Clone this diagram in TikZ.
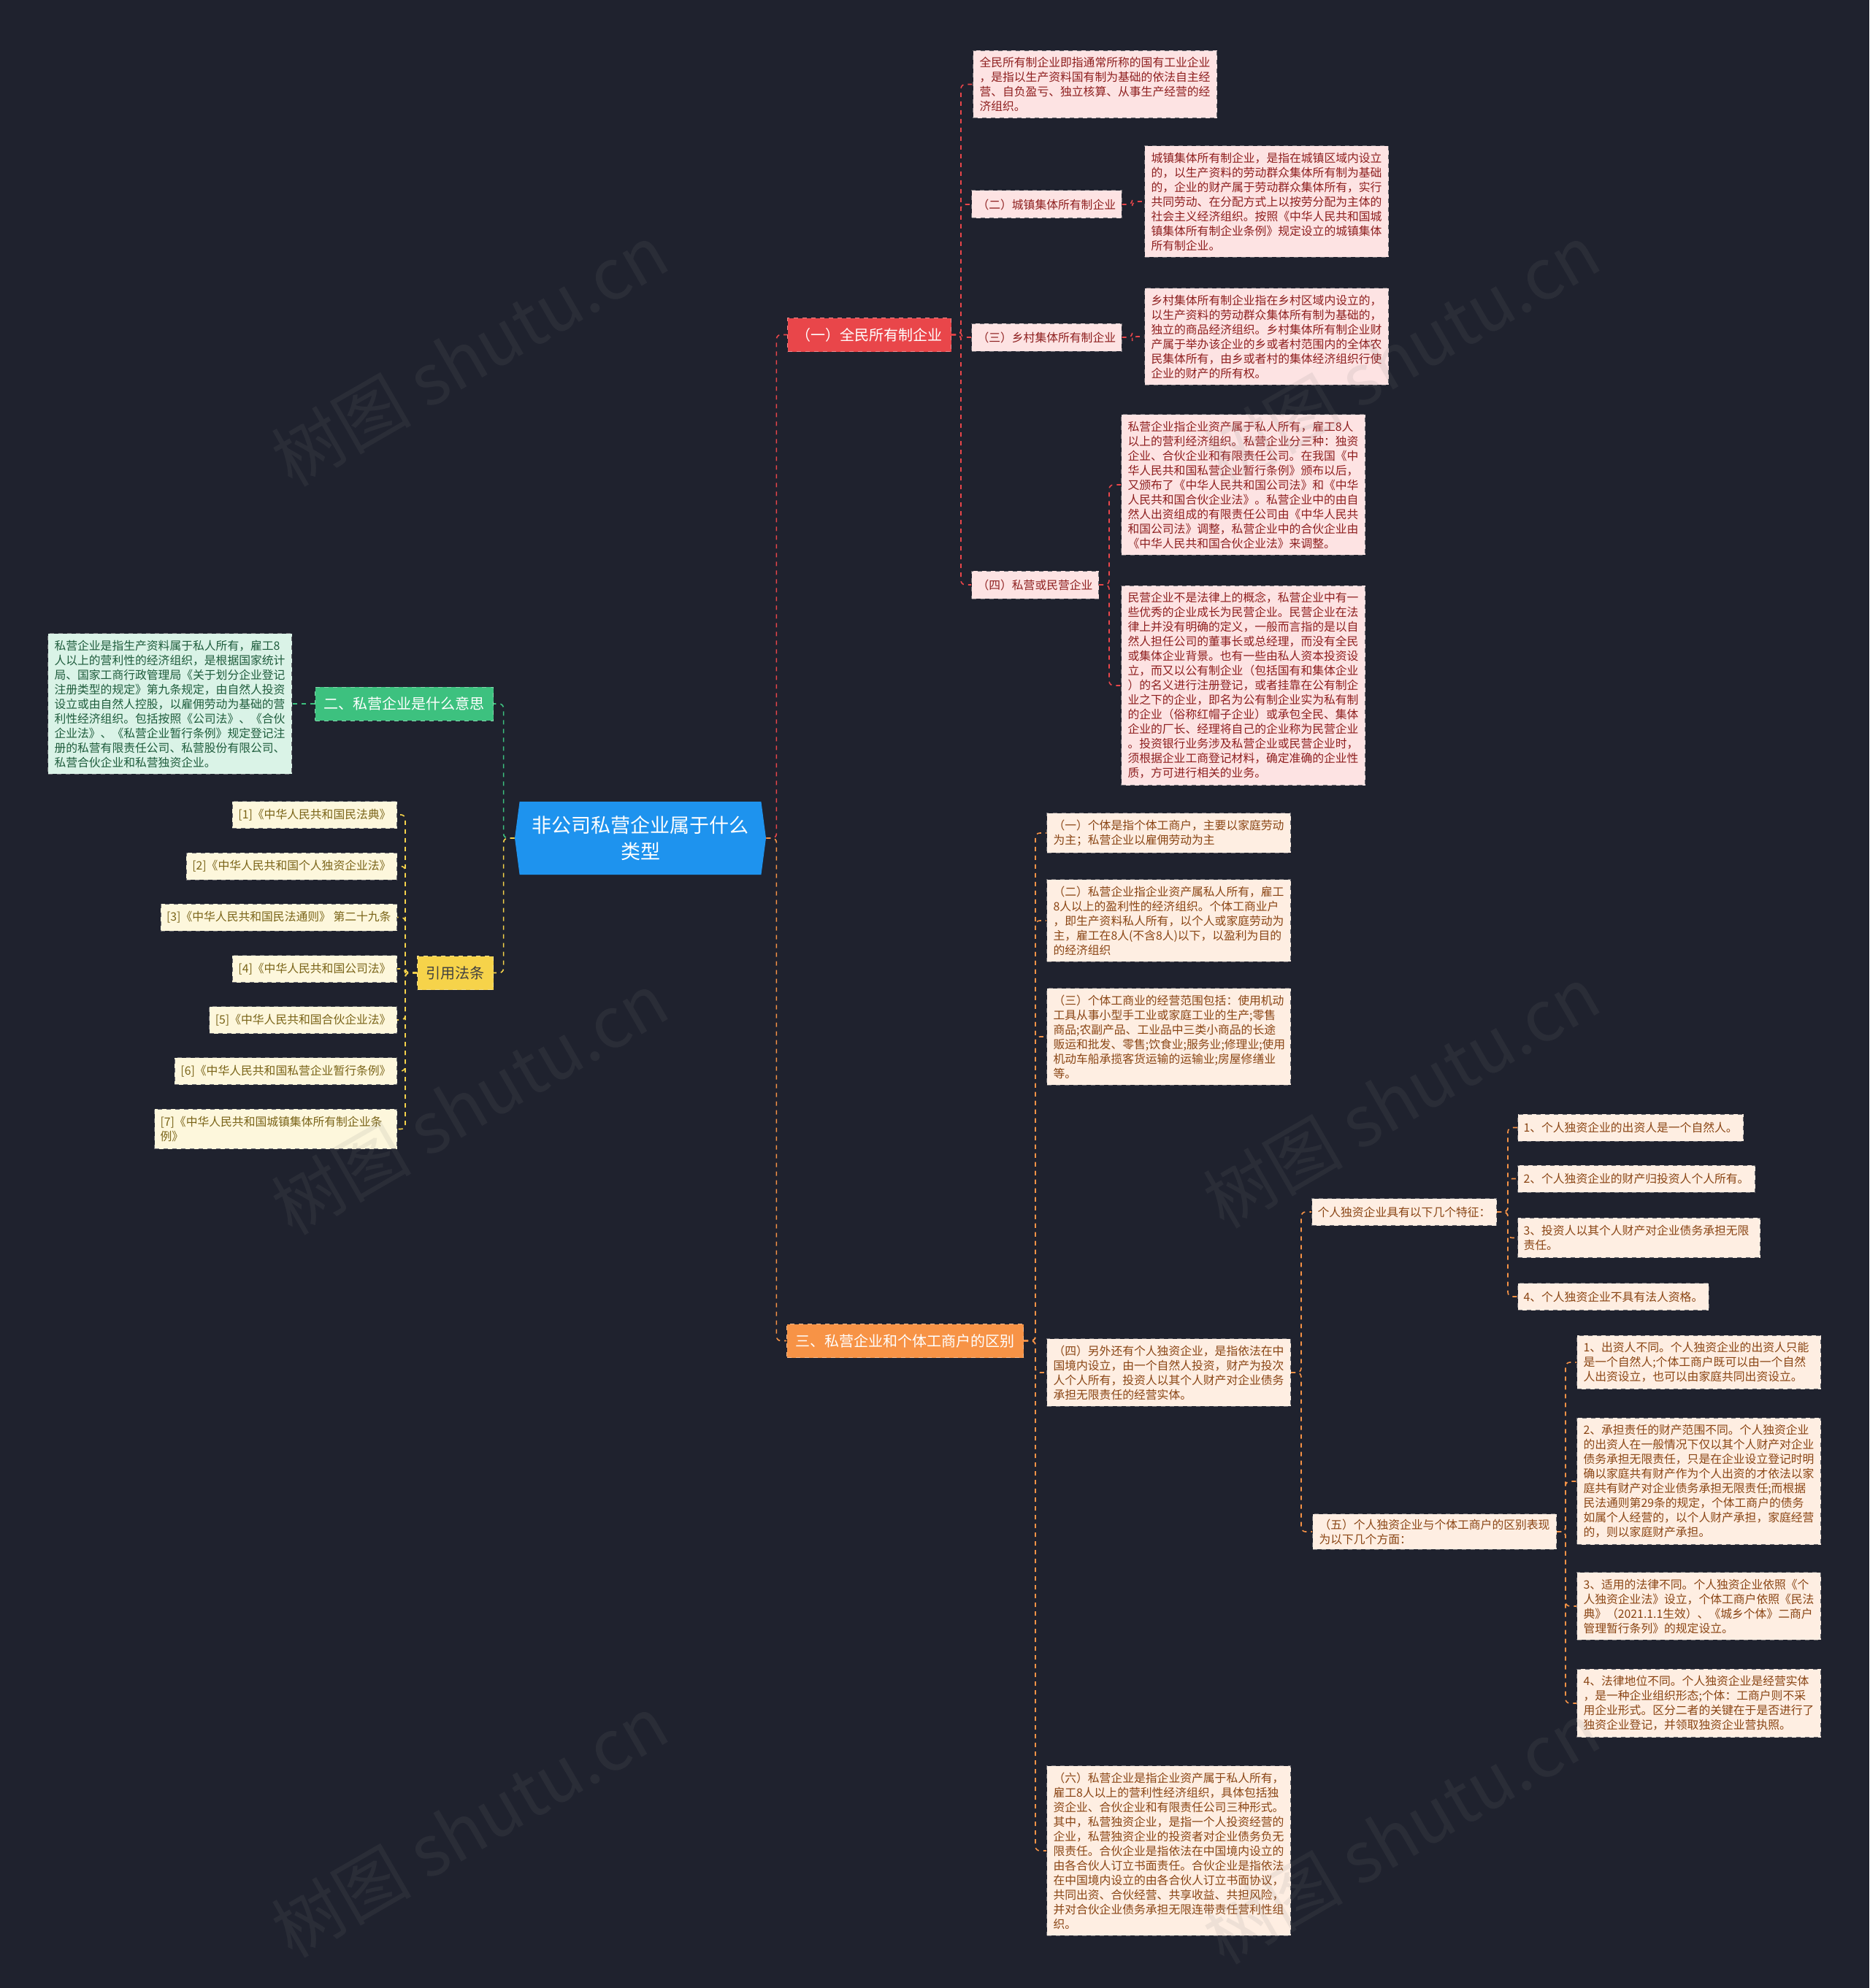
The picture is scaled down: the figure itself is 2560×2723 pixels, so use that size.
\documentclass[tikz,border=0pt]{standalone}
\usepackage{fontspec}
\setmainfont{Noto Sans CJK SC}
\usetikzlibrary{shapes.symbols}
\definecolor{bgc}{HTML}{1F222E}
\definecolor{redc}{HTML}{E9464A}
\definecolor{greenc}{HTML}{3DC17F}
\definecolor{yellowc}{HTML}{F6D34A}
\definecolor{orangec}{HTML}{F79346}
\definecolor{bluec}{HTML}{1E93EE}
\definecolor{pinkfill}{HTML}{FDE3E3}
\definecolor{pinktext}{HTML}{8E1F1F}
\definecolor{mintfill}{HTML}{DAF3E7}
\definecolor{minttext}{HTML}{1E5C3C}
\definecolor{creamfill}{HTML}{FDF7DC}
\definecolor{creamtext}{HTML}{7A6418}
\definecolor{peachfill}{HTML}{FEEEE2}
\definecolor{peachtext}{HTML}{8A4514}
\definecolor{boxline}{HTML}{6A6A70}
\newcommand\fsC{\fontsize{7.9pt}{10pt}\selectfont}
\newcommand\fsB{\fontsize{10pt}{12pt}\selectfont}
\newcommand\fsM{\fontsize{13.5pt}{18pt}\selectfont}
\newcommand\fsW{\fontsize{48pt}{48pt}\selectfont}
\begin{document}
\begin{tikzpicture}[x=0.5pt,y=-0.5pt,
  box/.style={draw=boxline, dashed, line width=0.5pt, font=\fsC, align=left, inner xsep=4.5pt, inner ysep=4.5pt},
  wbox/.style={box, text width=158pt},
  pinkbox/.style={wbox, fill=pinkfill, text=pinktext},
  pinklab/.style={box, fill=pinkfill, text=pinktext, minimum height=19pt, inner xsep=4pt},
  mintbox/.style={wbox, fill=mintfill, text=minttext},
  lawbox/.style={box, fill=creamfill, text=creamtext, minimum height=18.5pt, inner xsep=4pt, anchor=east},
  peachbox/.style={wbox, fill=peachfill, text=peachtext},
  peachlab/.style={box, fill=peachfill, text=peachtext, minimum height=18.5pt, inner xsep=4pt, inner ysep=5pt},
  branch/.style={font=\fsB, minimum height=23pt, inner xsep=6pt, draw=white!35!#1, dashed, line width=0.5pt, fill=#1},
  conn/.style={dashed, line width=0.8pt, rounded corners=3pt, draw=#1},
  wm/.style={rotate=30, text=gray, opacity=0.12, font=\fsW}
]
\fill[bgc] (0,0) rectangle (2560,2723);
\useasboundingbox (0,0) rectangle (2560,2723);

% center
\node[shape=signal, signal to=west and east, signal pointer angle=165, fill=bluec, text=white, font=\fsM, align=center, minimum width=172pt, minimum height=50pt, inner sep=0pt] (center) at (877,1148) {非公司私营企业属于什么\\类型};

% branches
\node[branch=redc, text=white, anchor=west] (b1) at (1078,458.5) {（一）全民所有制企业};
\node[branch=greenc, text=white, anchor=east] (b2) at (676,964) {二、私营企业是什么意思};
\node[branch=yellowc, text=black!75, anchor=east] (b3) at (676,1332.5) {引用法条};
\node[branch=orangec, text=white, anchor=west] (b4) at (1077,1836.5) {三、私营企业和个体工商户的区别};

% branch 1 children
\node[pinkbox, anchor=west] (c1a) at (1332,115.5) {全民所有制企业即指通常所称的国有工业企业\\，是指以生产资料国有制为基础的依法自主经\\营、自负盈亏、独立核算、从事生产经营的经\\济组织。};
\node[pinklab, anchor=west] (l1b) at (1330,280) {（二）城镇集体所有制企业};
\node[pinkbox, anchor=west] (t1b) at (1567,276) {城镇集体所有制企业，是指在城镇区域内设立\\的，以生产资料的劳动群众集体所有制为基础\\的，企业的财产属于劳动群众集体所有，实行\\共同劳动、在分配方式上以按劳分配为主体的\\社会主义经济组织。按照《中华人民共和国城\\镇集体所有制企业条例》规定设立的城镇集体\\所有制企业。};
\node[pinklab, anchor=west] (l1c) at (1330,462) {（三）乡村集体所有制企业};
\node[pinkbox, anchor=west] (t1c) at (1567,461) {乡村集体所有制企业指在乡村区域内设立的，\\以生产资料的劳动群众集体所有制为基础的，\\独立的商品经济组织。乡村集体所有制企业财\\产属于举办该企业的乡或者村范围内的全体农\\民集体所有，由乡或者村的集体经济组织行使\\企业的财产的所有权。};
\node[pinklab, anchor=west] (l1d) at (1330,801) {（四）私营或民营企业};
\node[pinkbox, anchor=west] (t1d1) at (1535,664) {私营企业指企业资产属于私人所有，雇工8人\\以上的营利经济组织。私营企业分三种：独资\\企业、合伙企业和有限责任公司。在我国《中\\华人民共和国私营企业暂行条例》颁布以后，\\又颁布了《中华人民共和国公司法》和《中华\\人民共和国合伙企业法》。私营企业中的由自\\然人出资组成的有限责任公司由《中华人民共\\和国公司法》调整，私营企业中的合伙企业由\\《中华人民共和国合伙企业法》来调整。};
\node[pinkbox, anchor=west] (t1d2) at (1535,939) {民营企业不是法律上的概念，私营企业中有一\\些优秀的企业成长为民营企业。民营企业在法\\律上并没有明确的定义，一般而言指的是以自\\然人担任公司的董事长或总经理，而没有全民\\或集体企业背景。也有一些由私人资本投资设\\立，而又以公有制企业（包括国有和集体企业\\）的名义进行注册登记，或者挂靠在公有制企\\业之下的企业，即名为公有制企业实为私有制\\的企业（俗称红帽子企业）或承包全民、集体\\企业的厂长、经理将自己的企业称为民营企业\\。投资银行业务涉及私营企业或民营企业时，\\须根据企业工商登记材料，确定准确的企业性\\质，方可进行相关的业务。};

% branch 2 child
\node[mintbox, anchor=east] (lb) at (400,964) {私营企业是指生产资料属于私人所有，雇工8\\人以上的营利性的经济组织，是根据国家统计\\局、国家工商行政管理局《关于划分企业登记\\注册类型的规定》第九条规定，由自然人投资\\设立或由自然人控股，以雇佣劳动为基础的营\\利性经济组织。包括按照《公司法》、《合伙\\企业法》、《私营企业暂行条例》规定登记注\\册的私营有限责任公司、私营股份有限公司、\\私营合伙企业和私营独资企业。};

% branch 3 children
\node[lawbox] (law1) at (544,1116) {[1]《中华人民共和国民法典》};
\node[lawbox] (law2) at (544,1186.5) {[2]《中华人民共和国个人独资企业法》};
\node[lawbox] (law3) at (544,1256.5) {[3]《中华人民共和国民法通则》 第二十九条};
\node[lawbox] (law4) at (544,1327) {[4]《中华人民共和国公司法》};
\node[lawbox] (law5) at (544,1397) {[5]《中华人民共和国合伙企业法》};
\node[lawbox] (law6) at (544,1467) {[6]《中华人民共和国私营企业暂行条例》};
\node[lawbox, text width=158pt, align=left, inner ysep=5pt] (law7) at (544,1546.5) {[7]《中华人民共和国城镇集体所有制企业条\\例》};

% branch 4 children
\node[peachbox, anchor=west] (d1) at (1433,1141) {（一）个体是指个体工商户，主要以家庭劳动\\为主；私营企业以雇佣劳动为主};
\node[peachbox, anchor=west] (d2) at (1433,1261) {（二）私营企业指企业资产属私人所有，雇工\\8人以上的盈利性的经济组织。个体工商业户\\，即生产资料私人所有，以个人或家庭劳动为\\主，雇工在8人(不含8人)以下，以盈利为目的\\的经济组织};
\node[peachbox, anchor=west] (d3) at (1433,1420) {（三）个体工商业的经营范围包括：使用机动\\工具从事小型手工业或家庭工业的生产;零售\\商品;农副产品、工业品中三类小商品的长途\\贩运和批发、零售;饮食业;服务业;修理业;使用\\机动车船承揽客货运输的运输业;房屋修缮业\\等。};
\node[peachbox, anchor=west] (d4) at (1433,1880) {（四）另外还有个人独资企业，是指依法在中\\国境内设立，由一个自然人投资，财产为投次\\人个人所有，投资人以其个人财产对企业债务\\承担无限责任的经营实体。};
\node[peachbox, anchor=west] (d6) at (1433,2535) {（六）私营企业是指企业资产属于私人所有，\\雇工8人以上的营利性经济组织，具体包括独\\资企业、合伙企业和有限责任公司三种形式。\\其中，私营独资企业，是指一个人投资经营的\\企业，私营独资企业的投资者对企业债务负无\\限责任。合伙企业是指依法在中国境内设立的\\由各合伙人订立书面责任。合伙企业是指依法\\在中国境内设立的由各合伙人订立书面协议，\\共同出资、合伙经营、共享收益、共担风险，\\并对合伙企业债务承担无限连带责任营利性组\\织。};

\node[peachlab, anchor=west] (feat) at (1796,1660) {个人独资企业具有以下几个特征：};
\node[peachlab, anchor=west] (f1) at (2078,1544.5) {1、个人独资企业的出资人是一个自然人。};
\node[peachlab, anchor=west] (f2) at (2078,1614.5) {2、个人独资企业的财产归投资人个人所有。};
\node[peachlab, anchor=west, text width=158pt, align=left] (f3) at (2078,1695.5) {3、投资人以其个人财产对企业债务承担无限\\责任。};
\node[peachlab, anchor=west] (f4) at (2078,1776) {4、个人独资企业不具有法人资格。};

\node[peachbox, anchor=west, inner ysep=3.5pt] (five) at (1797,2098) {（五）个人独资企业与个体工商户的区别表现\\为以下几个方面：};
\node[peachbox, anchor=west] (e1) at (2159,1866) {1、出资人不同。个人独资企业的出资人只能\\是一个自然人;个体工商户既可以由一个自然\\人出资设立，也可以由家庭共同出资设立。};
\node[peachbox, anchor=west] (e2) at (2159,2029) {2、承担责任的财产范围不同。个人独资企业\\的出资人在一般情况下仅以其个人财产对企业\\债务承担无限责任，只是在企业设立登记时明\\确以家庭共有财产作为个人出资的才依法以家\\庭共有财产对企业债务承担无限责任;而根据\\民法通则第29条的规定，个体工商户的债务\\如属个人经营的，以个人财产承担，家庭经营\\的，则以家庭财产承担。};
\node[peachbox, anchor=west] (e3) at (2159,2200) {3、适用的法律不同。个人独资企业依照《个\\人独资企业法》设立，个体工商户依照《民法\\典》（2021.1.1生效）、《城乡个体》二商户\\管理暂行条列》的规定设立。};
\node[peachbox, anchor=west] (e4) at (2159,2333) {4、法律地位不同。个人独资企业是经营实体\\，是一种企业组织形态;个体：工商户则不采\\用企业形式。区分二者的关键在于是否进行了\\独资企业登记，并领取独资企业营执照。};

% connectors
\draw[conn=redc] (center.east) -- ++(14,0) |- (b1.west);
\draw[conn=orangec] (center.east) -- ++(14,0) |- (b4.west);
\draw[conn=greenc] (center.west) -- ++(-15,0) |- (b2.east);
\draw[conn=yellowc] (center.west) -- ++(-15,0) |- (b3.east);

\foreach \t in {c1a,l1b,l1c,l1d}
  \draw[conn=redc] (b1.east) -- ++(13,0) |- (\t.west);
\draw[conn=redc] (l1b.east) -- ++(14,0) |- (t1b.west);
\draw[conn=redc] (l1c.east) -- ++(14,0) |- (t1c.west);
\draw[conn=redc] (l1d.east) -- ++(14,0) |- (t1d1.west);
\draw[conn=redc] (l1d.east) -- ++(14,0) |- (t1d2.west);

\draw[conn=greenc] (b2.west) -- (lb.east);

\foreach \t in {law1,law2,law3,law4,law5,law6,law7}
  \draw[conn=yellowc] (b3.west) -- ++(-16,0) |- (\t.east);

\foreach \t in {d1,d2,d3,d4,d6}
  \draw[conn=orangec] (b4.east) -- ++(16,0) |- (\t.west);
\draw[conn=orangec] (d4.east) -- ++(14,0) |- (feat.west);
\draw[conn=orangec] (d4.east) -- ++(14,0) |- (five.west);
\foreach \t in {f1,f2,f3,f4}
  \draw[conn=orangec] (feat.east) -- ++(15,0) |- (\t.west);
\foreach \t in {e1,e2,e3,e4}
  \draw[conn=orangec] (five.east) -- ++(12,0) |- (\t.west);

% watermarks
\node[wm] (wm1) at (643,486) {树图 shutu.cn};
\node[wm] (wm2) at (1919,486) {树图 shutu.cn};
\node[wm] (wm3) at (643,1511) {树图 shutu.cn};
\node[wm] (wm4) at (1919,1502) {树图 shutu.cn};
\node[wm] (wm5) at (643,2501) {树图 shutu.cn};
\node[wm] (wm6) at (1919,2510) {树图 shutu.cn};
\end{tikzpicture}
\end{document}
